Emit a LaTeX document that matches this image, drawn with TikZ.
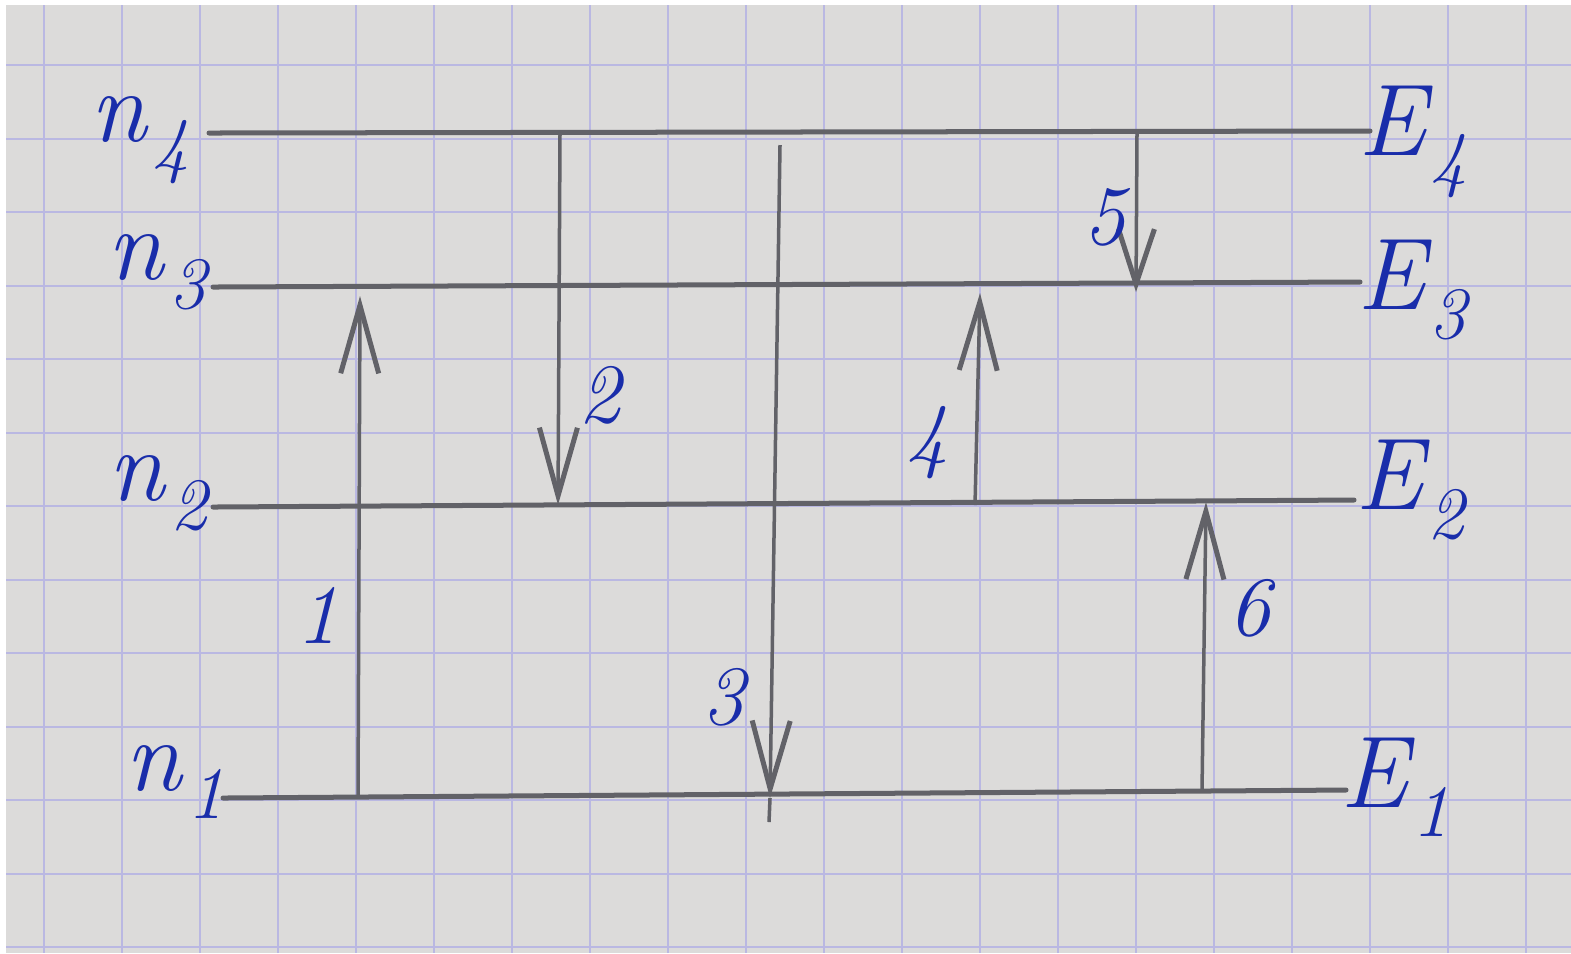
\documentclass[tikz,border=0pt]{standalone}
\usetikzlibrary{arrows.meta}
\definecolor{paper}{RGB}{220,219,218}
\definecolor{gridc}{RGB}{186,184,226}
\definecolor{pencil}{RGB}{98,98,104}
\definecolor{ink}{RGB}{25,45,170}
\newcommand\lvlab[2]{#1\kern0.05em\raisebox{-0.28em}{\fontsize{21pt}{23pt}\selectfont #2}}
\tikzset{
  level/.style={pencil, line width=0.05cm, line cap=round},
  trans/.style={pencil, line width=0.035cm, -{Straight Barb[length=0.68cm, width=0.38cm, line width=0.05cm]}},
  lab/.style={ink, font=\fontsize{29pt}{32pt}\selectfont\itshape, inner sep=0pt},
  num/.style={ink, font=\fontsize{24pt}{28pt}\selectfont\itshape, inner sep=0pt},
  gridline/.style={gridc, line width=0.02cm}
}
\begin{document}
\begin{tikzpicture}[x=0.01cm,y=-0.01cm]
\fill[white] (0,0) rectangle (1571,953);
\fill[paper] (6,5) rectangle (1571,953);
\useasboundingbox (0,0) rectangle (1571,953);
\begin{scope}
\clip (6,5) rectangle (1571,953);
\foreach \i in {0,...,19} \draw[gridline] ({44+78*\i},5) -- ({44+78*\i},953);
\foreach \j in {0,...,12} \draw[gridline] (6,{65+73.5*\j}) -- (1571,{65+73.5*\j});
\end{scope}
% energy levels
\coordinate (l4a) at (209,133); \coordinate (l4b) at (1370,131);
\coordinate (l3a) at (213,287); \coordinate (l3b) at (1360,282);
\coordinate (l2a) at (213,507); \coordinate (l2b) at (1354,500);
\coordinate (l1a) at (223,798); \coordinate (l1b) at (1346,790);
\draw[level] (l4a) -- (l4b);
\draw[level] (l3a) -- (l3b);
\draw[level] (l2a) -- (l2b);
\draw[level] (l1a) -- (l1b);
% transitions
\coordinate (a1s) at (358,798); \coordinate (a1e) at (360,296);
\coordinate (a2s) at (560,133); \coordinate (a2e) at (558,505);
\coordinate (a3s) at (780,145); \coordinate (a3e) at (770,798); \coordinate (a3x) at (769,822);
\coordinate (a4s) at (975,505); \coordinate (a4e) at (980,293);
\coordinate (a5s) at (1137,132); \coordinate (a5e) at (1136,292);
\coordinate (a6s) at (1202,790); \coordinate (a6e) at (1206,502);
\draw[trans] (a1s) -- (a1e);
\draw[trans] (a2s) -- (a2e);
\draw[trans] (a3s) -- (a3e);
\draw[pencil, line width=0.035cm] (a3e) -- (a3x);
\draw[trans] (a4s) -- (a4e);
\draw[trans, -{Straight Barb[length=0.55cm, width=0.36cm, line width=0.05cm]}] (a5s) -- (a5e);
\draw[trans] (a6s) -- (a6e);
% labels
\node[lab] (n4) at (140,140) {\lvlab{n}{4}};
\node[lab] (n3) at (157,272) {\lvlab{n}{3}};
\node[lab] (n2) at (158,493) {\lvlab{n}{2}};
\node[lab] (n1) at (175,782) {\lvlab{n}{1}};
\node[lab] (E4) at (1413,142) {\lvlab{E}{4}};
\node[lab] (E3) at (1412,290) {\lvlab{E}{3}};
\node[lab] (E2) at (1410,490) {\lvlab{E}{2}};
\node[lab] (E1) at (1395,787) {\lvlab{E}{1}};
\node[num] (t1) at (318,615) {1};
\node[num] (t2) at (600,395) {2};
\node[num] (t3) at (724,697) {3};
\node[num] (t4) at (928,443) {4};
\node[num] (t5) at (1105,217) {5};
\node[num] (t6) at (1250,608) {6};
\end{tikzpicture}
\end{document}
